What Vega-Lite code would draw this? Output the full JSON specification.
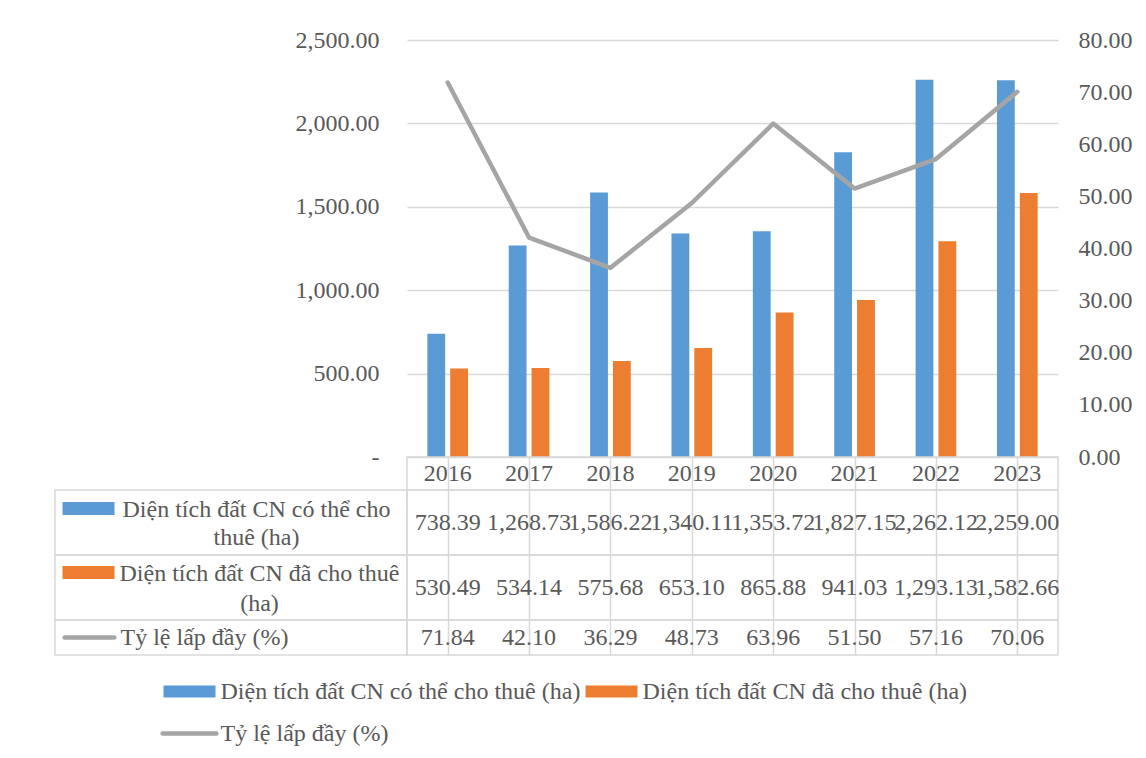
{
  "$schema": "https://vega.github.io/schema/vega-lite/v6.json",
  "padding": {"left": 54, "top": 28, "right": 5, "bottom": 5},
  "datasets": {
    "d": [
      {"year": "2016", "series": "Diện tích đất CN có thể cho thuê (ha)", "value": 738.39},
      {"year": "2017", "series": "Diện tích đất CN có thể cho thuê (ha)", "value": 1268.73},
      {"year": "2018", "series": "Diện tích đất CN có thể cho thuê (ha)", "value": 1586.22},
      {"year": "2019", "series": "Diện tích đất CN có thể cho thuê (ha)", "value": 1340.11},
      {"year": "2020", "series": "Diện tích đất CN có thể cho thuê (ha)", "value": 1353.72},
      {"year": "2021", "series": "Diện tích đất CN có thể cho thuê (ha)", "value": 1827.15},
      {"year": "2022", "series": "Diện tích đất CN có thể cho thuê (ha)", "value": 2262.12},
      {"year": "2023", "series": "Diện tích đất CN có thể cho thuê (ha)", "value": 2259.00},
      {"year": "2016", "series": "Diện tích đất CN đã cho thuê (ha)", "value": 530.49},
      {"year": "2017", "series": "Diện tích đất CN đã cho thuê (ha)", "value": 534.14},
      {"year": "2018", "series": "Diện tích đất CN đã cho thuê (ha)", "value": 575.68},
      {"year": "2019", "series": "Diện tích đất CN đã cho thuê (ha)", "value": 653.10},
      {"year": "2020", "series": "Diện tích đất CN đã cho thuê (ha)", "value": 865.88},
      {"year": "2021", "series": "Diện tích đất CN đã cho thuê (ha)", "value": 941.03},
      {"year": "2022", "series": "Diện tích đất CN đã cho thuê (ha)", "value": 1293.13},
      {"year": "2023", "series": "Diện tích đất CN đã cho thuê (ha)", "value": 1582.66},
      {"year": "2016", "series": "Tỷ lệ lấp đầy (%)", "value": 71.84},
      {"year": "2017", "series": "Tỷ lệ lấp đầy (%)", "value": 42.10},
      {"year": "2018", "series": "Tỷ lệ lấp đầy (%)", "value": 36.29},
      {"year": "2019", "series": "Tỷ lệ lấp đầy (%)", "value": 48.73},
      {"year": "2020", "series": "Tỷ lệ lấp đầy (%)", "value": 63.96},
      {"year": "2021", "series": "Tỷ lệ lấp đầy (%)", "value": 51.50},
      {"year": "2022", "series": "Tỷ lệ lấp đầy (%)", "value": 57.16},
      {"year": "2023", "series": "Tỷ lệ lấp đầy (%)", "value": 70.06}
    ]
  },
  "columns": 2,
  "spacing": 0,
  "bounds": "flush",
  "concat": [
    {
      "width": 352, "height": 417,
      "data": {"values": [{}]},
      "mark": {"type": "point", "opacity": 0},
      "encoding": {}
    },
    {
      "width": 651, "height": 417,
      "data": {"name": "d"},
      "layer": [
        {
          "transform": [{"filter": "datum.series !== 'Tỷ lệ lấp đầy (%)'"}],
          "mark": {"type": "bar"},
          "encoding": {
            "x": {"field": "year", "type": "nominal", "scale": {"paddingInner": 0.5, "paddingOuter": 0.25}, "axis": null},
            "xOffset": {"field": "series", "type": "nominal", "sort": ["Diện tích đất CN có thể cho thuê (ha)", "Diện tích đất CN đã cho thuê (ha)"], "scale": {"paddingInner": 0.22, "paddingOuter": 0}},
            "y": {
              "field": "value", "type": "quantitative",
              "scale": {"domain": [0, 2500], "nice": false},
              "axis": {
                "values": [0, 500, 1000, 1500, 2000, 2500],
                "labelExpr": "datum.value === 0 ? '-\u2002' : format(datum.value, ',.2f')",
                "title": null, "domain": false, "ticks": false, "labelPadding": 28,
                "grid": true, "gridColor": "#d9d9d9", "gridWidth": 1.3
              }
            },
            "color": {
              "field": "series", "type": "nominal",
              "scale": {
                "domain": ["Diện tích đất CN có thể cho thuê (ha)", "Diện tích đất CN đã cho thuê (ha)", "Tỷ lệ lấp đầy (%)"],
                "range": ["#5B9BD5", "#ED7D31", "#A5A5A5"]
              },
              "legend": {
                "title": null,
                "orient": "none",
                "legendX": 108.5,
                "legendY": 639.5,
                "direction": "horizontal",
                "columns": 2,
                "columnPadding": 5,
                "rowPadding": 18,
                "symbolSize": 576,
                "symbolStrokeWidth": 0,
                "labelOffset": 33,
                "labelFont": "Liberation Serif",
                "labelFontSize": 24,
                "labelColor": "#595959",
                "labelLimit": 1000,
                "encode": {
                  "symbols": {
                    "update": {
                      "shape": {"signal": "datum.value === 'Tỷ lệ lấp đầy (%)' ? 'M-1.08,-0.18H3.42A0.18,0.18 0 0 1 3.42,0.18H-1.08A0.18,0.18 0 0 1 -1.08,-0.18Z' : 'M-1,-0.5H3.333V0.5H-1Z'"},
                      "fill": {"signal": "scale('color', datum.value)"},
                      "opacity": {"value": 1},
                      "strokeWidth": {"value": 0}
                    }
                  }
                }
              }
            }
          }
        },
        {
          "transform": [{"filter": "datum.series === 'Tỷ lệ lấp đầy (%)'"}],
          "mark": {"type": "line", "strokeWidth": 4.5, "strokeCap": "round", "strokeJoin": "round"},
          "encoding": {
            "x": {"field": "year", "type": "nominal"},
            "y": {
              "field": "value", "type": "quantitative",
              "scale": {"domain": [0, 80], "nice": false},
              "axis": {
                "orient": "right",
                "values": [0, 10, 20, 30, 40, 50, 60, 70, 80],
                "format": ".2f",
                "title": null, "domain": false, "ticks": false, "labelPadding": 20, "grid": false
              }
            },
            "color": {"field": "series", "type": "nominal"}
          }
        }
      ],
      "resolve": {"scale": {"y": "independent"}}
    },
    {
      "width": 352, "height": 33,
      "data": {"values": [{}]},
      "mark": {"type": "point", "opacity": 0},
      "encoding": {}
    },
    {
      "width": 651, "height": 33,
      "data": {"name": "d"},
      "transform": [{"filter": "datum.series === 'Diện tích đất CN có thể cho thuê (ha)'"}],
      "mark": {"type": "text", "fontSize": 24, "color": "#595959", "font": "Liberation Serif"},
      "encoding": {
        "x": {"field": "year", "type": "nominal", "scale": {"paddingInner": 0, "paddingOuter": 0},
          "axis": {"title": null, "labels": false, "ticks": false, "domain": false, "grid": true, "bandPosition": 0, "gridColor": "#d9d9d9", "gridWidth": 1.5}},
        "text": {"field": "year"}
      },
      "view": {"stroke": "#d9d9d9", "strokeWidth": 1.5}
    },
    {
      "width": 352, "height": 65,
      "data": {"name": "d"},
      "transform": [
        {"filter": "datum.series === 'Diện tích đất CN có thể cho thuê (ha)'"},
        {"aggregate": [{"op": "count", "as": "n"}], "groupby": ["series"]}
      ],
      "mark": {"type": "point", "shape": "M-1,-0.25H1V0.25H-1Z", "size": 2704, "filled": true, "fill": "#5B9BD5", "opacity": 1, "strokeWidth": 0, "xOffset": -142.5, "yOffset": -14},
      "encoding": {},
      "view": {"stroke": "#d9d9d9", "strokeWidth": 1.5}
    },
    {
      "width": 651, "height": 65,
      "data": {"name": "d"},
      "transform": [{"filter": "datum.series === 'Diện tích đất CN có thể cho thuê (ha)'"}],
      "mark": {"type": "text", "fontSize": 24, "color": "#595959", "font": "Liberation Serif"},
      "encoding": {
        "x": {"field": "year", "type": "nominal", "scale": {"paddingInner": 0, "paddingOuter": 0},
          "axis": {"title": null, "labels": false, "ticks": false, "domain": false, "grid": true, "bandPosition": 0, "gridColor": "#d9d9d9", "gridWidth": 1.5}},
        "y": {"field": "series", "type": "nominal",
          "axis": {"title": null, "domain": false, "ticks": false, "grid": false, "labelAlign": "center", "labelPadding": 151, "labelLimit": 1000, "labelLineHeight": 28, "labelOffset": -13,
            "labelExpr": "['Diện tích đất CN có thể cho', 'thuê (ha)']"}},
        "text": {"field": "value", "format": ",.2f"}
      },
      "view": {"stroke": "#d9d9d9", "strokeWidth": 1.5}
    },
    {
      "width": 352, "height": 65,
      "data": {"name": "d"},
      "transform": [
        {"filter": "datum.series === 'Diện tích đất CN đã cho thuê (ha)'"},
        {"aggregate": [{"op": "count", "as": "n"}], "groupby": ["series"]}
      ],
      "mark": {"type": "point", "shape": "M-1,-0.25H1V0.25H-1Z", "size": 2704, "filled": true, "fill": "#ED7D31", "opacity": 1, "strokeWidth": 0, "xOffset": -142.5, "yOffset": -15},
      "encoding": {},
      "view": {"stroke": "#d9d9d9", "strokeWidth": 1.5}
    },
    {
      "width": 651, "height": 65,
      "data": {"name": "d"},
      "transform": [{"filter": "datum.series === 'Diện tích đất CN đã cho thuê (ha)'"}],
      "mark": {"type": "text", "fontSize": 24, "color": "#595959", "font": "Liberation Serif"},
      "encoding": {
        "x": {"field": "year", "type": "nominal", "scale": {"paddingInner": 0, "paddingOuter": 0},
          "axis": {"title": null, "domain": false, "labels": false, "ticks": false, "grid": true, "bandPosition": 0, "gridColor": "#d9d9d9", "gridWidth": 1.5}},
        "y": {"field": "series", "type": "nominal",
          "axis": {"title": null, "domain": false, "ticks": false, "grid": false, "labelAlign": "center", "labelPadding": 148, "labelLimit": 1000, "labelLineHeight": 30, "labelOffset": -14.5,
            "labelExpr": "['Diện tích đất CN đã cho thuê', '(ha)']"}},
        "text": {"field": "value", "format": ",.2f"}
      },
      "view": {"stroke": "#d9d9d9", "strokeWidth": 1.5}
    },
    {
      "width": 352, "height": 35,
      "data": {"name": "d"},
      "transform": [
        {"filter": "datum.series === 'Tỷ lệ lấp đầy (%)'"},
        {"aggregate": [{"op": "count", "as": "n"}], "groupby": ["series"]}
      ],
      "mark": {"type": "point", "shape": "M-0.92,-0.085H0.92A0.085,0.085 0 0 1 0.92,0.085H-0.92A0.085,0.085 0 0 1 -0.92,-0.085Z", "size": 2916, "filled": true, "fill": "#A5A5A5", "opacity": 1, "strokeWidth": 0, "xOffset": -141.5, "yOffset": 0},
      "encoding": {},
      "view": {"stroke": "#d9d9d9", "strokeWidth": 1.5}
    },
    {
      "width": 651, "height": 35,
      "data": {"name": "d"},
      "transform": [{"filter": "datum.series === 'Tỷ lệ lấp đầy (%)'"}],
      "mark": {"type": "text", "fontSize": 24, "color": "#595959", "font": "Liberation Serif"},
      "encoding": {
        "x": {"field": "year", "type": "nominal", "scale": {"paddingInner": 0, "paddingOuter": 0},
          "axis": {"title": null, "labels": false, "ticks": false, "domain": false, "grid": true, "bandPosition": 0, "gridColor": "#d9d9d9", "gridWidth": 1.5}},
        "y": {"field": "series", "type": "nominal",
          "axis": {"title": null, "domain": false, "ticks": false, "grid": false, "labelAlign": "left", "labelPadding": 287, "labelLimit": 1000}},
        "text": {"field": "value", "format": ".2f"}
      },
      "view": {"stroke": "#d9d9d9", "strokeWidth": 1.5}
    }
  ],
  "config": {
    "font": "Liberation Serif",
    "view": {"stroke": null},
    "axis": {"labelFont": "Liberation Serif", "labelFontSize": 24, "labelColor": "#595959"}
  }
}
